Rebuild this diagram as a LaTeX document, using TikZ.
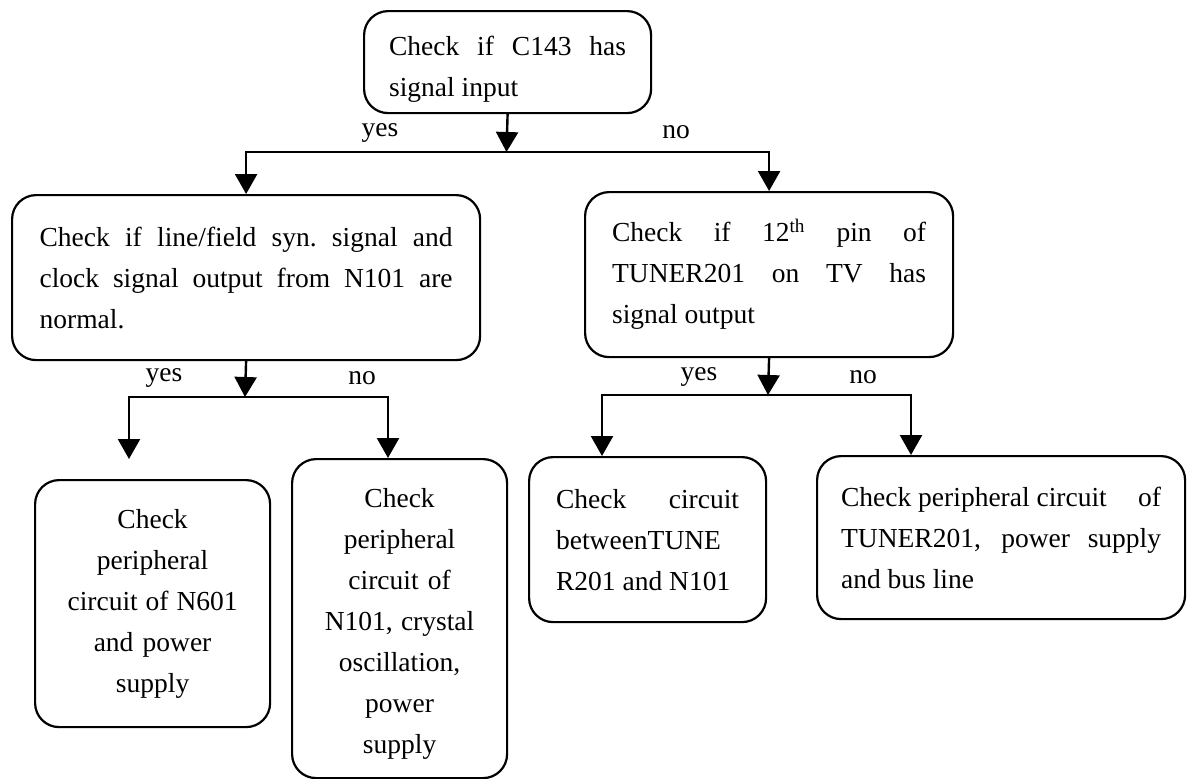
\documentclass[tikz,border=0pt]{standalone}
\usepackage{fontspec}
\setmainfont{Liberation Serif}
\usetikzlibrary{arrows.meta}
\newcommand{\jl}[1]{\makebox[\hsize][s]{\spaceskip=0.25em plus 1fil\xspaceskip=0.25em plus 1fil\relax#1}}
\newcommand{\nsp}{\spaceskip=0.25em plus 0.1em\xspaceskip=0.25em plus 0.1em\relax}
\begin{document}
\begin{tikzpicture}[x=1pt,y=-1pt,
  txt/.style={font=\fontsize{27.5pt}{41pt}\selectfont},
  box/.style={txt,draw,line width=2.2pt,rounded corners=24pt,anchor=north west,inner ysep=0pt},
  arr/.style={line width=2.4pt,-{Triangle[length=20pt,width=22pt]}},
  lbl/.style={txt,inner sep=0pt}]
\useasboundingbox (0,0) rectangle (1187,779);
% boxes
\node[box,inner xsep=25pt,text width=237pt,minimum height=102pt,align=justify] (T) at (363,10)
  {\nsp\jl{\rule{0pt}{33pt}Check if C143 has}\\signal input};
\node[box,inner xsep=27.5pt,text width=413pt,minimum height=165pt,align=justify] (L1) at (11,194)
  {\nsp\jl{Check if line/field syn. signal and}\\\jl{clock signal output from N101 are}\\normal.};
\node[box,inner xsep=27pt,text width=314pt,minimum height=165pt,align=justify] (R1) at (584,191)
  {\nsp\jl{Check if 12\textsuperscript{th} pin of}\\\jl{TUNER201 on TV has}\\signal output};
\node[box,inner xsep=12pt,text width=211pt,minimum height=247pt,align=center] (LL) at (34,479)
  {\nsp Check\\peripheral\\circuit of N601\\and power\\supply};
\node[box,inner xsep=12pt,text width=191pt,minimum height=319pt,align=center] (LR) at (291,458)
  {\nsp\rule{0pt}{30pt}Check\\peripheral\\circuit of\\N101, crystal\\oscillation,\\power\\supply};
\node[box,inner xsep=27pt,text width=183pt,minimum height=165pt,align=justify] (RL) at (528,456)
  {\nsp\jl{Check circuit}\\betweenTUNE\\R201 and N101};
\node[box,inner xsep=24pt,text width=320pt,minimum height=163pt,align=justify] (RR) at (816,455)
  {\nsp\jl{Check peripheral circuit\hfill of}\\\jl{TUNER201, power supply}\\and bus line};
% junctions and arrow ends
\coordinate (j1) at (506.5,152);
\coordinate (j2) at (245,397);
\coordinate (j3) at (768,395);
\coordinate (aLL) at (129,459);
\coordinate (aLR) at (388,458);
\coordinate (aRL) at (602,456);
\coordinate (aRR) at (911,455);
% connectors
\draw[arr] (T.south) -- (j1);
\draw[arr] (j1) -| (L1.north);
\draw[arr] (j1) -| (R1.north);
\draw[arr] (L1.south) -- (j2);
\draw[arr] (j2) -| (aLL);
\draw[arr] (j2) -| (aLR);
\draw[arr] (R1.south) -- (j3);
\draw[arr] (j3) -| (aRL);
\draw[arr] (j3) -| (aRR);
% labels
\node[lbl] (y1) at (380,133) {yes};
\node[lbl] (n1) at (676,132) {no};
\node[lbl] (y2) at (164,378) {yes};
\node[lbl] (n2) at (362,378) {no};
\node[lbl] (y3) at (699,377) {yes};
\node[lbl] (n3) at (863,377) {no};
\end{tikzpicture}
\end{document}
